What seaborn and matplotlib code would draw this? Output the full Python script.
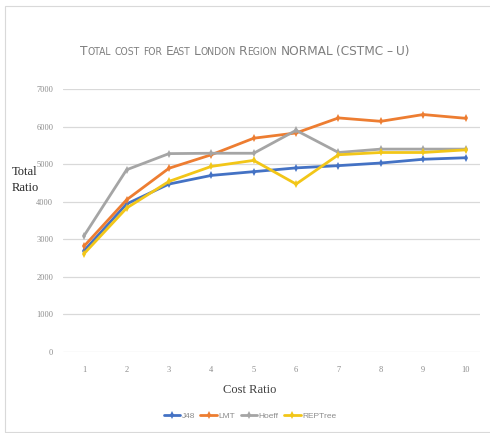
import matplotlib
matplotlib.use("Agg")
import matplotlib.pyplot as plt
from matplotlib import font_manager
import seaborn as sns
import pandas as pd

# Cost ratio categories and total cost per classifier
cost_ratio = [1, 2, 3, 4, 5, 6, 7, 8, 9, 10]
j48 = [2700, 3940, 4470, 4700, 4800, 4900, 4960, 5030, 5130, 5170]
lmt = [2820, 4050, 4890, 5250, 5690, 5830, 6230, 6140, 6320, 6220]
hoeff = [3100, 4850, 5280, 5290, 5290, 5900, 5310, 5400, 5400, 5400]
reptree = [2620, 3830, 4540, 4940, 5100, 4470, 5250, 5310, 5310, 5380]
series_names = ["J48", "LMT", "Hoeff", "REPTree"]
y_ticks = [0, 1000, 2000, 3000, 4000, 5000, 6000, 7000]
title = "Total cost for East London Region NORMAL (CSTMC – U)"

colors = ["#4472C4", "#ED7D31", "#A5A5A5", "#F2C618"]

df = pd.DataFrame({
    "Cost Ratio": cost_ratio * 4,
    "Total": j48 + lmt + hoeff + reptree,
    "Classifier": sum([[n] * len(cost_ratio) for n in series_names], []),
})

sns.set_theme(style="white")
plt.rcParams["font.family"] = ["Liberation Sans", "DejaVu Sans"]

# prefer a condensed face for the title when one is available
condensed = [f.fname for f in font_manager.fontManager.ttflist
             if "Condensed" in f.fname and "Bold" not in f.fname
             and "Oblique" not in f.fname and "Italic" not in f.fname
             and "Sans" in f.fname]
title_prop = (font_manager.FontProperties(fname=condensed[0]) if condensed
              else font_manager.FontProperties(family="Liberation Sans"))

fig = plt.figure(figsize=(4.9, 4.33), dpi=100)
ax = fig.add_axes([63 / 490, 1 - 352 / 433, (480 - 63) / 490, (352 - 89) / 433])

sns.lineplot(
    data=df, x="Cost Ratio", y="Total", hue="Classifier",
    hue_order=series_names, palette=colors, marker="d",
    markersize=4, markeredgewidth=0, linewidth=2.0, ax=ax, legend=True,
)

ax.set_xlim(0.5, 10.34)
ax.set_ylim(0, 7000)
ax.set_xticks(cost_ratio)
ax.set_xticklabels([str(c) for c in cost_ratio])
ax.set_yticks(y_ticks)
ax.set_yticklabels([str(v) for v in y_ticks])
ax.yaxis.grid(True, color="#D9D9D9", linewidth=0.9)
ax.xaxis.grid(False)
for s in ax.spines.values():
    s.set_visible(False)
ax.tick_params(axis="both", length=0, labelsize=6, labelcolor="#8C8C8C")
ax.tick_params(axis="x", pad=10)
ax.tick_params(axis="y", pad=7)
for lab in ax.get_xticklabels() + ax.get_yticklabels():
    lab.set_family("Liberation Serif")

ax.set_xlabel("")
ax.set_ylabel("")
fig.text(250 / 490, 1 - 390 / 433, "Cost Ratio", ha="center", va="center",
         fontsize=9, family="Liberation Serif", color="#404040")
fig.text(25 / 490, 1 - 180 / 433, "Total\nRatio", ha="center", va="center",
         fontsize=9, family="Liberation Serif", color="#262626", linespacing=1.4)

# Small-caps title: capitals at full size, lowercase letters as smaller capitals
renderer = fig.canvas.get_renderer()
big, small = 12.0, 9.2
runs = []
for ch in title:
    if ch == " ":
        runs.append((" ", None))
        continue
    size = small if ch.islower() else big
    if runs and runs[-1][1] == size:
        runs[-1] = (runs[-1][0] + ch.upper(), size)
    else:
        runs.append((ch.upper(), size))

def layout(scale):
    parts, x = [], 0.0
    for s, size in runs:
        if size is None:
            x += 0.24 * big * scale * 100 / 72
            continue
        prop = title_prop.copy()
        prop.set_size(size * scale)
        t = fig.text(0, 0, s, fontproperties=prop, color="#7F7F7F", va="baseline")
        w = t.get_window_extent(renderer).width
        parts.append((t, x))
        x += w
    return parts, x

parts, total = layout(1.0)
scale = 330 / total
for t, _ in parts:
    t.remove()
parts, total = layout(scale)
x0 = 245 - total / 2
for t, x in parts:
    t.set_position(((x0 + x) / 490, 1 - 55 / 433))

handles, labels = ax.get_legend_handles_labels()
ax.legend_.remove()
fig.legend(handles, labels, loc="center", bbox_to_anchor=(250 / 490, 1 - 416 / 433),
           ncol=4, frameon=False, fontsize=6, handlelength=2.0, handletextpad=0.2,
           columnspacing=0.6, labelcolor="#8C8C8C")

# chart frame
frame = plt.Rectangle((5 / 490, 1 / 433), 490, 1 - 7 / 433, transform=fig.transFigure,
                      fill=False, edgecolor="#D9D9D9", linewidth=0.8)
fig.patches.append(frame)

fig.savefig("out.png", dpi=100)
